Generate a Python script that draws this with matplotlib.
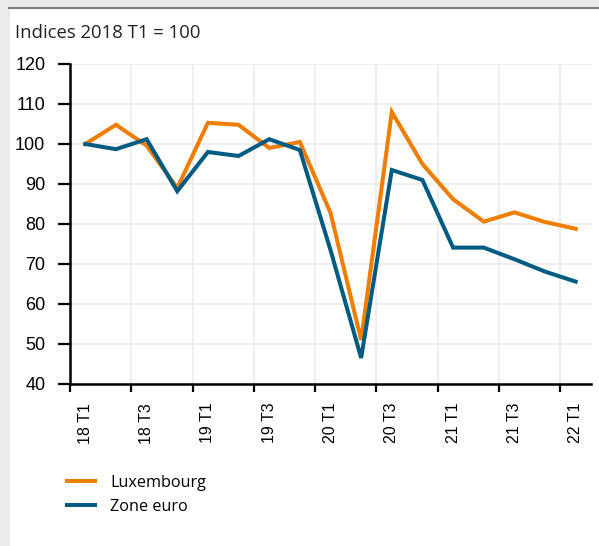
import matplotlib
matplotlib.use('Agg')
import matplotlib.pyplot as plt
from matplotlib.patches import Rectangle
from matplotlib.lines import Line2D

QUARTERS = ['18 T1', '18 T2', '18 T3', '18 T4', '19 T1', '19 T2', '19 T3', '19 T4',
            '20 T1', '20 T2', '20 T3', '20 T4', '21 T1', '21 T2', '21 T3', '21 T4',
            '22 T1']
LUXEMBOURG = [100, 104.8, 99.6, 89.0, 105.3, 104.8, 99.0, 100.5,
              82.8, 51.0, 108.0, 95.0, 86.2, 80.6, 82.9, 80.5, 78.8]
ZONE_EURO = [100, 98.7, 101.2, 88.2, 98.0, 97.0, 101.2, 98.5,
             73.5, 46.5, 93.5, 91.0, 74.1, 74.1, 71.2, 68.1, 65.6]
Y_TICKS = [40, 50, 60, 70, 80, 90, 100, 110, 120]

ORANGE = '#EF7D00'
BLUE = '#005B82'
GRID = '#EEEEEE'
TEXT_FONT = ['Open Sans', 'DejaVu Sans']
TICK_FONT = ['Liberation Sans', 'DejaVu Sans']

W, H = 599, 546
fig = plt.figure(figsize=(W / 100, H / 100), dpi=100)
fig.patch.set_facecolor('white')

# grey frame on the top and left, with a dark rule under the top strip
fig.patches.append(Rectangle((0, 0), 9 / W, 1, transform=fig.transFigure,
                             color='#EBEBEB', zorder=0))
fig.patches.append(Rectangle((0, 1 - 8 / H), 1, 8 / H, transform=fig.transFigure,
                             color='#EBEBEB', zorder=0))
fig.add_artist(Line2D([9 / W, 1], [1 - 7.5 / H, 1 - 7.5 / H], transform=fig.transFigure,
                      color='#7F7F7F', linewidth=1.5))

ax = fig.add_axes([70 / W, 1 - 384 / H, (591 - 70) / W, (384 - 64) / H])
x = list(range(len(QUARTERS)))
ax.plot(x, LUXEMBOURG, color=ORANGE, linewidth=2.9, label='Luxembourg',
        solid_joinstyle='miter', zorder=3)
ax.plot(x, ZONE_EURO, color=BLUE, linewidth=2.9, label='Zone euro',
        solid_joinstyle='miter', zorder=3)

ax.set_xlim(-0.5, len(QUARTERS) - 0.5)
ax.set_ylim(40, 120)
ax.set_yticks(Y_TICKS)
ax.set_yticklabels([str(v) for v in Y_TICKS], fontfamily=TICK_FONT, fontsize=13)

# ticks sit between quarters, labels sit on every other quarter
ax.set_xticks([i - 0.5 for i in x[::2]])
ax.set_xticklabels([])
ax.set_xticks(x[::2], minor=True)
ax.set_xticklabels(QUARTERS[::2], minor=True, rotation=90,
                   fontfamily=TICK_FONT, fontsize=11.5)
ax.tick_params(axis='x', which='minor', length=0, pad=13.5)
ax.tick_params(axis='x', which='major', length=6, width=1.6, color='black')
ax.tick_params(axis='y', length=9, width=1.6, color='black', pad=8.8)

ax.grid(True, which='major', color=GRID, linewidth=1.5, zorder=0)
for s in ('top', 'right'):
    ax.spines[s].set_visible(False)
for s in ('left', 'bottom'):
    ax.spines[s].set_linewidth(1.8)
    ax.spines[s].set_zorder(4)

fig.text(15 / W, 1 - 33 / H, 'Indices 2018 T1 = 100', ha='left', va='center',
         fontfamily=TEXT_FONT, fontsize=13.3, color='#222222')

fig.legend(loc='upper left', bbox_to_anchor=(52.5 / W, 1 - 460 / H), frameon=False,
           prop={'family': TEXT_FONT, 'size': 11.7}, handlelength=1.72,
           handletextpad=0.92, labelspacing=0.5)

fig.savefig('out.png', dpi=100)
